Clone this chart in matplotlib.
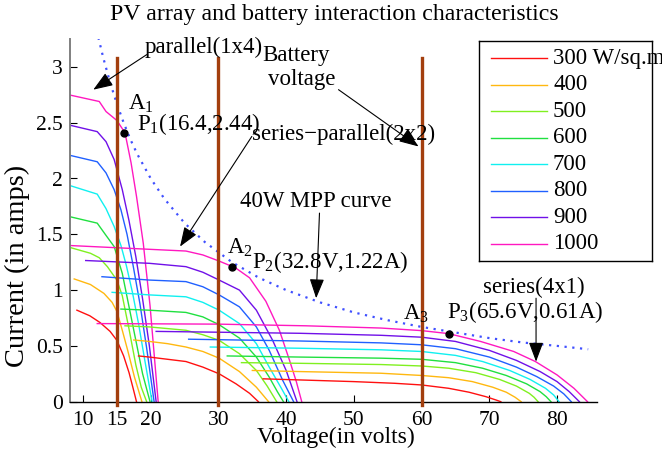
import matplotlib
matplotlib.use('Agg')
import matplotlib.pyplot as plt

plt.rcParams['font.family'] = ['Liberation Serif', 'DejaVu Serif']
plt.rcParams['mathtext.fontset'] = 'custom'
plt.rcParams['mathtext.rm'] = 'Liberation Serif'
plt.rcParams['mathtext.it'] = 'Liberation Serif'

# irradiance levels (300 ... 1000 W/sq.m)
irr_labels = ['300 W/sq.m', '400', '500', '600', '700', '800', '900', '1000']
irr_colors = ['#ff1010', '#ffb810', '#80f020', '#20e040', '#10f0f0', '#2060ff', '#7010e8', '#ff18c0']

# parallel (1x4) curves
par_v = [
    [9.1, 11.0, 12.5, 14.0, 15.0, 16.0, 16.8, 17.4, 17.9],
    [8.7, 11.1, 13.1, 14.3, 15.0, 15.8, 16.6, 17.6, 18.7],
    [8.2, 11.1, 12.4, 13.6, 15.0, 15.8, 16.8, 17.8, 18.6, 19.4],
    [7.9, 12.1, 13.4, 14.6, 15.8, 16.8, 17.8, 18.8, 19.9],
    [7.9, 12.1, 13.4, 14.6, 15.6, 16.4, 17.3, 18.2, 19.1, 20.2],
    [7.9, 12.1, 13.4, 14.6, 15.6, 16.5, 17.4, 18.4, 19.4, 20.5],
    [7.9, 12.1, 13.4, 14.6, 15.8, 16.8, 17.8, 18.8, 19.8, 20.8],
    [7.9, 12.4, 13.4, 15.0, 16.2, 17.1, 17.9, 18.9, 19.9, 21.1],
]
par_i = [
    [0.82, 0.77, 0.71, 0.63, 0.55, 0.41, 0.26, 0.12, 0.0],
    [1.10, 1.05, 0.97, 0.89, 0.81, 0.64, 0.46, 0.22, 0.0],
    [1.38, 1.33, 1.29, 1.21, 1.09, 0.95, 0.65, 0.33, 0.13, 0.0],
    [1.66, 1.60, 1.49, 1.39, 1.15, 0.85, 0.55, 0.25, 0.0],
    [1.94, 1.86, 1.73, 1.57, 1.40, 1.22, 0.98, 0.70, 0.38, 0.0],
    [2.21, 2.15, 2.05, 1.90, 1.72, 1.50, 1.22, 0.88, 0.48, 0.0],
    [2.48, 2.42, 2.33, 2.17, 1.90, 1.62, 1.30, 0.92, 0.50, 0.0],
    [2.75, 2.69, 2.60, 2.52, 2.41, 2.14, 1.84, 1.42, 0.86, 0.0],
]

# series-parallel (2x2) curves
sp_v = [
    [18.2, 19.8, 25.2, 27.7, 30.1, 32.6, 34.6, 35.9],
    [17.5, 19.8, 22.5, 25.2, 27.7, 30.1, 33.1, 35.6, 37.4],
    [16.2, 19.8, 25.2, 27.7, 30.1, 33.1, 35.6, 37.2, 38.6],
    [15.6, 19.8, 25.2, 27.7, 30.1, 33.1, 35.6, 37.5, 38.7, 39.6],
    [14.3, 19.8, 25.2, 27.7, 30.1, 33.1, 35.6, 37.5, 39.2, 40.4],
    [12.8, 19.8, 25.2, 27.7, 30.1, 33.1, 35.6, 37.5, 39.5, 41.1],
    [10.4, 19.8, 25.2, 27.7, 30.1, 33.1, 35.6, 38.0, 40.0, 41.6],
    [7.9, 25.2, 27.7, 30.1, 32.5, 34.6, 37.0, 39.0, 40.5, 41.5, 42.3],
]
sp_i = [
    [0.41, 0.40, 0.36, 0.31, 0.25, 0.16, 0.075, 0.0],
    [0.553, 0.54, 0.52, 0.49, 0.45, 0.39, 0.27, 0.13, 0.0],
    [0.68, 0.67, 0.64, 0.60, 0.55, 0.43, 0.28, 0.14, 0.0],
    [0.83, 0.82, 0.80, 0.76, 0.69, 0.57, 0.40, 0.22, 0.09, 0.0],
    [0.98, 0.957, 0.94, 0.89, 0.82, 0.70, 0.52, 0.31, 0.13, 0.0],
    [1.12, 1.09, 1.076, 1.03, 0.957, 0.85, 0.67, 0.46, 0.19, 0.0],
    [1.265, 1.24, 1.21, 1.16, 1.09, 1.0, 0.82, 0.55, 0.28, 0.0],
    [1.40, 1.35, 1.315, 1.26, 1.20, 1.11, 0.90, 0.64, 0.37, 0.18, 0.0],
]

# series (4x1) curves
ser_v = [
    [36.6, 42, 50, 56, 60, 64, 67, 69.5, 71, 71.7],
    [35.0, 42, 54, 60, 64, 67.5, 70.5, 72.5, 73.8, 74.7],
    [33.4, 42, 54, 60, 64, 68, 71.5, 74, 75.9, 76.6, 77.2],
    [31.3, 42, 54, 60, 65, 69, 72.5, 75.5, 77.5, 78.4, 79.1],
    [28.8, 42, 54, 60, 65, 69, 73, 76, 78.3, 79.5, 80.3],
    [25.6, 42, 54, 60, 65, 70, 74, 77, 79.5, 81, 82.1],
    [20.8, 42, 54, 60, 65, 70, 74, 77.5, 80, 81.8, 83.3],
    [12.1, 30, 43, 54, 60, 64, 68.7, 73.6, 76.8, 80, 82.5, 84.5],
]
ser_i = [
    [0.205, 0.195, 0.18, 0.165, 0.15, 0.12, 0.085, 0.045, 0.015, 0.0],
    [0.28, 0.27, 0.255, 0.235, 0.215, 0.18, 0.13, 0.085, 0.04, 0.0],
    [0.35, 0.344, 0.333, 0.32, 0.30, 0.26, 0.20, 0.14, 0.075, 0.04, 0.0],
    [0.41, 0.40, 0.39, 0.38, 0.35, 0.30, 0.235, 0.16, 0.09, 0.045, 0.0],
    [0.49, 0.479, 0.465, 0.45, 0.415, 0.36, 0.28, 0.20, 0.12, 0.06, 0.0],
    [0.56, 0.544, 0.527, 0.51, 0.475, 0.40, 0.31, 0.225, 0.14, 0.07, 0.0],
    [0.63, 0.613, 0.595, 0.578, 0.54, 0.46, 0.37, 0.27, 0.18, 0.09, 0.0],
    [0.70, 0.695, 0.68, 0.66, 0.637, 0.61, 0.54, 0.45, 0.36, 0.24, 0.12, 0.0],
]

# 40W MPP curve
mpp_v = [12.0, 13, 14, 15, 16, 17, 18, 20, 22, 25, 28, 32, 36, 40, 45, 50, 55, 60, 65, 70, 75, 80, 84.6]
mpp_i = [3.33, 3.08, 2.86, 2.67, 2.50, 2.35, 2.22, 2.00, 1.82, 1.60, 1.43, 1.25, 1.11, 1.00, 0.89,
         0.80, 0.73, 0.67, 0.62, 0.57, 0.53, 0.50, 0.47]

# battery voltages
batt_v = [15, 30, 60]
batt_top = 3.08

# operating points P1, P2, P3
op_v = [16.1, 31.97, 63.98]
op_i = [2.407, 1.205, 0.607]

W, H = 662, 458
fig = plt.figure(figsize=(W / 100, H / 100), dpi=100)
ax = fig.add_axes([70 / W, 1 - 401.7 / H, 527 / W, 362.7 / H])

for group_v, group_i in [(par_v, par_i), (sp_v, sp_i), (ser_v, ser_i)]:
    for v, i, c in zip(group_v, group_i, irr_colors):
        ax.plot(v, i, color=c, lw=1.0)

ax.plot(mpp_v, mpp_i, color='#4050ff', lw=1.6, linestyle=(0, (1, 2.5)))

for bv in batt_v:
    ax.plot([bv, bv], [-0.03, batt_top], color='#a33f0e', lw=2.4, clip_on=False, zorder=3)

ax.plot(op_v, op_i, 'o', color='k', ms=5, zorder=4)

ax.set_xlim(8.08, 85.9)
ax.set_ylim(0, 3.25)
ax.set_xticks([10, 15, 20, 30, 40, 50, 60, 70, 80])
ax.set_yticks([0, 0.5, 1, 1.5, 2, 2.5, 3])
ax.set_yticklabels(['0', '0.5', '1', '1.5', '2', '2.5', '3'])
ax.tick_params(direction='in', length=5, width=0.8, labelsize=15.5)
ax.tick_params(axis='x', pad=7)
ax.tick_params(axis='y', pad=5)
ax.spines['top'].set_visible(False)
ax.spines['right'].set_visible(False)
ax.spines['left'].set_color('#808080')
ax.spines['left'].set_linewidth(1.4)
ax.spines['bottom'].set_linewidth(1.0)

fs = 16.5
ax.text(19.16, 3.127, 'parallel(1x4)', fontsize=fs, va='baseline')
ax.text(36.41, 3.049, 'Battery', fontsize=fs, va='baseline')
ax.text(37.38, 2.840, 'voltage', fontsize=fs, va='baseline')
ax.text(16.69, 2.616, r'A$_1$', fontsize=fs, va='baseline')
ax.text(17.94, 2.437, r'P$_1$(16.4,2.44)', fontsize=fs, va='baseline')
ax.text(34.93, 2.347, 'series\u2212parallel(2x2)', fontsize=fs, va='baseline')
ax.text(33.2, 1.749, '40W MPP curve', fontsize=fs, va='baseline')
ax.text(31.24, 1.325, r'A$_2$', fontsize=fs, va='baseline')
ax.text(34.93, 1.196, r'P$_2$(32.8V,1.22A)', fontsize=fs, va='baseline')
ax.text(57.24, 0.733, r'A$_3$', fontsize=fs, va='baseline')
ax.text(63.75, 0.748, r'P$_3$(65.6V,0.61A)', fontsize=fs, va='baseline')
ax.text(69.07, 0.972, 'series(4x1)', fontsize=fs, va='baseline')

arrows = [
    ((19.41, 3.11), (11.52, 2.796)),
    ((47.73, 2.796), (59.55, 2.287)),
    ((34.93, 2.377), (24.33, 1.390)),
    ((44.92, 1.690), (44.43, 0.927)),
    ((76.9, 0.927), (76.9, 0.359)),
]
for start, tip in arrows:
    ax.annotate('', xy=tip, xytext=start,
                arrowprops=dict(arrowstyle='-|>,head_length=0.8,head_width=0.3',
                                color='k', lw=0.8, shrinkA=0, shrinkB=0,
                                mutation_scale=15))

fig.text(334.7 / W, 1 - 20 / H, 'PV array and battery interaction characteristics',
         fontsize=17.2, ha='center', va='baseline')
fig.text(336 / W, 1 - 443 / H, 'Voltage(in volts)', fontsize=17, ha='center', va='baseline')
fig.text(17.5 / W, 1 - 367 / H, 'Current (in amps)', fontsize=20.5, rotation=90,
         ha='center', va='bottom')

# legend box
lax = fig.add_axes([479 / W, 1 - 261 / H, 173 / W, 220 / H])
lax.set_xlim(0, 173)
lax.set_ylim(220, 0)
lax.set_xticks([])
lax.set_yticks([])
for sp in lax.spines.values():
    sp.set_linewidth(1.0)
    sp.set_color('k')
for k, (lab, c) in enumerate(zip(irr_labels, irr_colors)):
    y = 17.3 + 26.5 * k
    lax.plot([12, 68], [y, y], color=c, lw=1.0)
    lax.text(74, y, lab, fontsize=16.5, va='center', ha='left', clip_on=False)

fig.savefig('out.png', dpi=100)
